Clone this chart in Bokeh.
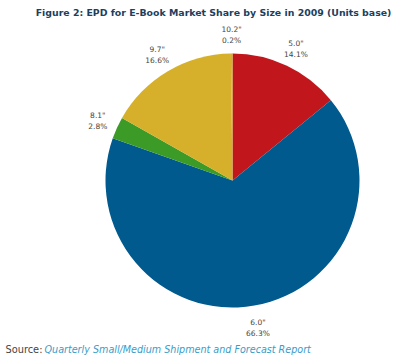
import math
from bokeh.plotting import figure
from bokeh.models import Range1d, ColumnDataSource
from bokeh.core.properties import value
from bokeh.embed import file_html
from bokeh.resources import INLINE

# Data (clockwise from 12 o'clock)
sizes = ['5.0"', '6.0"', '8.1"', '9.7"', '10.2"']
shares = [14.1, 66.3, 2.8, 16.6, 0.2]
colors = ["#C1171C", "#005A8E", "#3C9A27", "#D6B02A", "#D6B02A"]

title_text = "Figure 2: EPD for E-Book Market Share by Size in 2009 (Units base)"
source_label = "Source:"
source_title = "Quarterly Small/Medium Shipment and Forecast Report"

W, H = 400, 359
cx, cy, R = 232, 179, 127
label_r = 148

total = sum(shares)
starts, ends, lx, ly = [], [], [], []
cum = 0.0
for s in shares:
    a0 = math.pi / 2 - 2 * math.pi * cum / total
    cum += s
    a1 = math.pi / 2 - 2 * math.pi * cum / total
    starts.append(a0)
    ends.append(a1)
    mid = (a0 + a1) / 2
    lx.append(cx + label_r * math.cos(mid))
    ly.append(cy + label_r * math.sin(mid))

src = ColumnDataSource(dict(
    start=starts, end=ends, color=colors,
    lx=lx, ly=ly, size=sizes, pct=[f"{v:.1f}%" for v in shares],
))

p = figure(width=W, height=H, output_backend="svg", toolbar_location=None,
           x_range=Range1d(0, W), y_range=Range1d(0, H), min_border=0)
p.axis.visible = False
p.grid.visible = False
p.outline_line_color = None
p.background_fill_color = "white"

p.wedge(x=cx, y=cy, radius=R, start_angle="start", end_angle="end",
        direction="clock", fill_color="color", line_color=None, source=src)

p.text(x="lx", y="ly", text="size", source=src, y_offset=-3.5,
       text_align="center", text_baseline="middle",
       text_font=value("DejaVu Sans"), text_font_size="7.5px", text_color="#444444")
p.text(x="lx", y="ly", text="pct", source=src, y_offset=7.5,
       text_align="center", text_baseline="middle",
       text_font=value("DejaVu Sans"), text_font_size="7.5px", text_color="#444444")

p.text(x=[213], y=[347], text=[title_text], text_align="center", text_baseline="middle",
       text_font=value("DejaVu Sans"), text_font_style="bold", text_font_size="9.4px",
       text_color="#1D3F60")

p.text(x=[5], y=[10], text=[source_label], text_align="left", text_baseline="middle",
       text_font=value("DejaVu Sans"), text_font_size="9.8px", text_color="#444444")
p.text(x=[44], y=[10], text=[source_title], text_align="left", text_baseline="middle",
       text_font=value("DejaVu Sans"), text_font_style="italic", text_font_size="9.6px",
       text_color="#3A9BC8")

open("out.html", "w").write(file_html(p, INLINE))
